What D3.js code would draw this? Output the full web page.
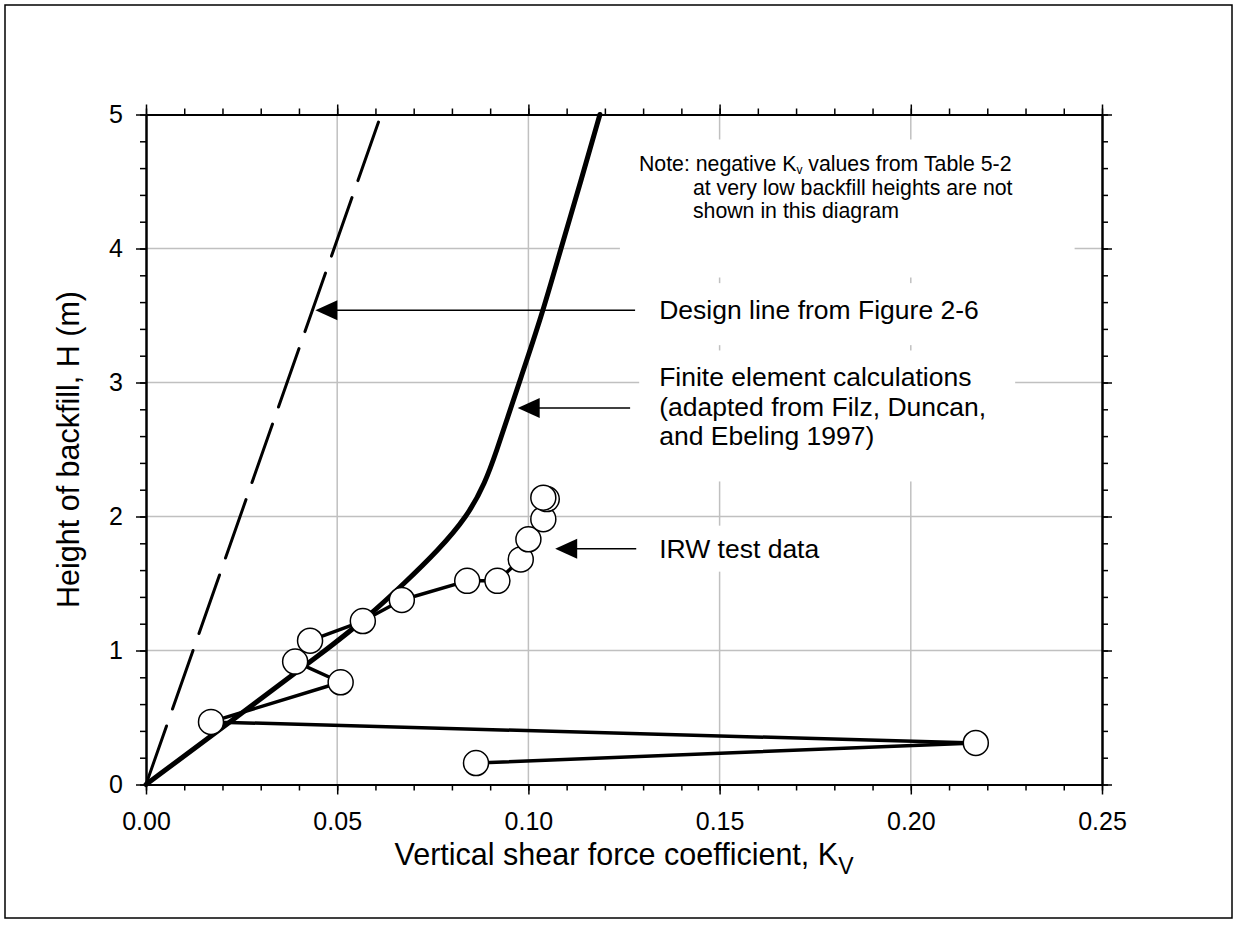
<!DOCTYPE html>
<html>
<head>
<meta charset="utf-8">
<script src="https://cdn.jsdelivr.net/npm/d3@7"></script>
<style>
  body { margin: 0; background: #fff; }
  svg { display: block; font-family: "Liberation Sans", Arial, sans-serif; }
</style>
</head>
<body>
<svg id="chart"></svg>
<script>
// axis ticks
const kTicks = [0, 0.05, 0.10, 0.15, 0.20, 0.25];
const kTickLabels = ["0.00", "0.05", "0.10", "0.15", "0.20", "0.25"];
const hTicks = [0, 1, 2, 3, 4, 5];
const kMinor = d3.range(0, 0.2501, 0.01);
const hMinor = d3.range(0, 5.001, 0.2);

// design line from Figure 2-6
const designK = [0, 0.0615];
const designH = [0, 5];

// finite element calculations
const feK = [0, 0.0235, 0.047, 0.058, 0.0675, 0.0765, 0.084, 0.0887, 0.0918, 0.0947, 0.0976, 0.1035, 0.1085, 0.1137, 0.1187];
const feH = [0, 0.5, 1.0, 1.25, 1.5, 1.75, 2.0, 2.25, 2.5, 2.75, 3.0, 3.5, 4.0, 4.5, 5.0];

// IRW test data
const irwK = [0.0863, 0.217, 0.017, 0.0509, 0.039, 0.0429, 0.0567, 0.0669, 0.084, 0.0919, 0.098, 0.100, 0.1039, 0.1048, 0.1039];
const irwH = [0.16, 0.31, 0.467, 0.763, 0.917, 1.073, 1.22, 1.377, 1.52, 1.52, 1.68, 1.83, 1.98, 2.13, 2.14];

const width = 1236;
const height = 936;
const margin = {top: 114.5, right: 134, bottom: 151.5, left: 146};

const svg = d3.select("#chart")
    .attr("width", width)
    .attr("height", height)
    .attr("viewBox", [0, 0, width, height]);

// outer frame
svg.append("rect")
    .attr("x", 5).attr("y", 5)
    .attr("width", 1227).attr("height", 913)
    .attr("fill", "none")
    .attr("stroke", "#000")
    .attr("stroke-width", 1.5);

const x = d3.scaleLinear().domain([0, 0.25]).range([margin.left, width - margin.right]);
const y = d3.scaleLinear().domain([0, 5]).range([height - margin.bottom, margin.top]);

// grid
const grid = svg.append("g").attr("stroke", "#c0c0c0").attr("stroke-width", 1.5);
grid.selectAll(".gx")
    .data(kTicks.slice(1, -1))
    .join("line")
    .attr("x1", d => x(d)).attr("x2", d => x(d))
    .attr("y1", y(0)).attr("y2", y(5));
grid.selectAll(".gy")
    .data(hTicks.slice(1, -1))
    .join("line")
    .attr("x1", x(0)).attr("x2", x(0.25))
    .attr("y1", d => y(d)).attr("y2", d => y(d));

const boxLayer = svg.append("g");

// axes
const axisStyle = g => {
    g.select(".domain").attr("stroke", "#000").attr("stroke-width", 2);
    g.selectAll(".tick line").attr("stroke", "#000").attr("stroke-width", 1.5);
    g.selectAll(".tick text").attr("fill", "#000").style("font-size", "25px")
        .style("font-family", "'Liberation Sans', Arial, sans-serif");
};
const noLabels = a => a.tickFormat("").tickSizeOuter(0);

svg.append("g").attr("transform", `translate(0,${y(0)})`)
    .call(noLabels(d3.axisBottom(x).tickValues(kMinor).tickSize(6))).call(axisStyle);
svg.append("g").attr("transform", `translate(0,${y(0)})`)
    .call(d3.axisBottom(x).tickValues(kTicks).tickSize(10).tickSizeOuter(0).tickPadding(18)
        .tickFormat((d, i) => kTickLabels[i]))
    .call(axisStyle);
svg.append("g").attr("transform", `translate(0,${y(5)})`)
    .call(noLabels(d3.axisTop(x).tickValues(kMinor).tickSize(6))).call(axisStyle);
svg.append("g").attr("transform", `translate(0,${y(5)})`)
    .call(noLabels(d3.axisTop(x).tickValues(kTicks).tickSize(10))).call(axisStyle);

svg.append("g").attr("transform", `translate(${x(0)},0)`)
    .call(noLabels(d3.axisLeft(y).tickValues(hMinor).tickSize(6))).call(axisStyle);
svg.append("g").attr("transform", `translate(${x(0)},0)`)
    .call(d3.axisLeft(y).tickValues(hTicks).tickSize(10).tickSizeOuter(0).tickPadding(13)
        .tickFormat(d3.format("d")))
    .call(axisStyle);
svg.append("g").attr("transform", `translate(${x(0.25)},0)`)
    .call(noLabels(d3.axisRight(y).tickValues(hMinor).tickSize(6))).call(axisStyle);
svg.append("g").attr("transform", `translate(${x(0.25)},0)`)
    .call(noLabels(d3.axisRight(y).tickValues(hTicks).tickSize(10))).call(axisStyle);

// axis titles
const xt = svg.append("text")
    .attr("x", (x(0) + x(0.25)) / 2)
    .attr("y", 865)
    .attr("text-anchor", "middle")
    .style("font-size", "30.5px");
xt.append("tspan").text("Vertical shear force coefficient, K");
xt.append("tspan").attr("dy", 9).style("font-size", "23px").text("V");

svg.append("text")
    .attr("transform", `translate(79,${(y(0) + y(5)) / 2}) rotate(-90)`)
    .attr("text-anchor", "middle")
    .style("font-size", "30.5px")
    .text("Height of backfill, H (m)");

// data
const line = d3.line().x(d => x(d[0])).y(d => y(d[1]));

svg.append("path")
    .datum(designK.map((k, i) => [k, designH[i]]))
    .attr("d", line)
    .attr("fill", "none")
    .attr("stroke", "#000")
    .attr("stroke-width", 3)
    .attr("stroke-dasharray", "62,18")
    .attr("stroke-linecap", "round");

svg.append("path")
    .datum(feK.map((k, i) => [k, feH[i]]))
    .attr("d", d3.line().x(d => x(d[0])).y(d => y(d[1])).curve(d3.curveBasis))
    .attr("fill", "none")
    .attr("stroke", "#000")
    .attr("stroke-width", 5)
    .attr("stroke-linecap", "round");

const irw = irwK.map((k, i) => [k, irwH[i]]);
svg.append("path")
    .datum(irw)
    .attr("d", line)
    .attr("fill", "none")
    .attr("stroke", "#000")
    .attr("stroke-width", 3.5)
    .attr("stroke-linejoin", "round");

svg.append("g")
    .selectAll("circle")
    .data(irw)
    .join("circle")
    .attr("cx", d => x(d[0]))
    .attr("cy", d => y(d[1]))
    .attr("r", 12.5)
    .attr("fill", "#fff")
    .attr("stroke", "#000")
    .attr("stroke-width", 1.5);

// annotations: arrow tip / tail in data units, text lines
const notes = [
    {tip: [0.0443, 3.54], tail: 0.1279, tx: 0.1342, lines: ["Design line from Figure 2-6"], first: 9,
        pad: [19, 20, 12, 20]},
    {tip: [0.0972, 2.81], tail: 0.1266, tx: 0.1342, lines: ["Finite element calculations", "(adapted from Filz, Duncan,", "and Ebeling 1997)"],
        first: -21.5, pad: [20, 29, 12, 30]},
    {tip: [0.1070, 1.76], tail: 0.1282, tx: 0.1342, lines: ["IRW test data"], first: 9,
        pad: [19, 20, 8, 8]}
];

const ann = svg.append("g");
notes.forEach(n => {
    const ty = y(n.tip[1]);
    const tx = x(n.tip[0]);
    const t = ann.append("text").style("font-size", "26.5px");
    n.lines.forEach((s, i) => {
        t.append("tspan").attr("x", x(n.tx)).attr("y", ty + n.first + i * 29.5).text(s);
    });
    const b = t.node().getBBox();
    boxLayer.append("rect")
        .attr("x", b.x - n.pad[0]).attr("y", b.y - n.pad[2])
        .attr("width", b.width + n.pad[0] + n.pad[1])
        .attr("height", b.height + n.pad[2] + n.pad[3])
        .attr("fill", "#fff");
    ann.append("line")
        .attr("x1", x(n.tail)).attr("x2", tx + 20)
        .attr("y1", ty).attr("y2", ty)
        .attr("stroke", "#000").attr("stroke-width", 1.5);
    ann.append("path")
        .attr("d", `M${tx},${ty}L${tx + 22},${ty - 10}L${tx + 22},${ty + 10}Z`)
        .attr("fill", "#000");
});

// note
const noteX = x(0.1289);
const noteY = y(5) + 56.5;
const note = ann.append("text").style("font-size", "21.3px");
const l1 = note.append("tspan").attr("x", noteX).attr("y", noteY);
l1.append("tspan").text("Note: negative K");
l1.append("tspan").attr("dy", 3).style("font-size", "12px").text("v");
l1.append("tspan").attr("dy", -3).text(" values from Table 5-2");
note.append("tspan").attr("x", noteX + 54).attr("y", noteY + 23.5).text("at very low backfill heights are not");
note.append("tspan").attr("x", noteX + 54).attr("y", noteY + 47).text("shown in this diagram");
const nb = note.node().getBBox();
boxLayer.append("rect")
    .attr("x", nb.x - 19).attr("y", y(5) + 25)
    .attr("width", nb.width + 19 + 62)
    .attr("height", 138)
    .attr("fill", "#fff");
</script>
</body>
</html>
